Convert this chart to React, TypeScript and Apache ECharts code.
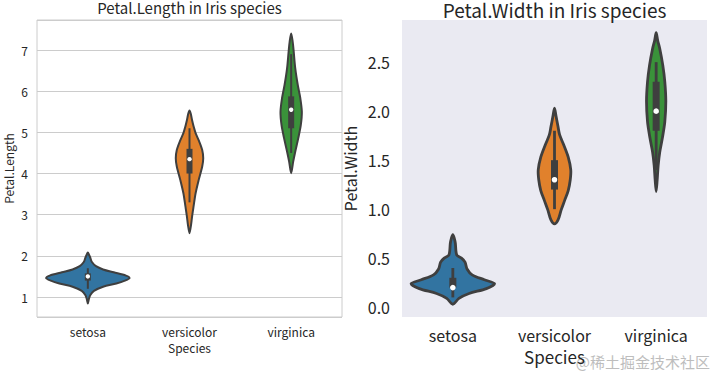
import React, { useEffect, useRef } from "react";
import * as echarts from "echarts";

const categories = ["setosa", "versicolor", "virginica"];
const palette = ["#3274a1", "#e1812c", "#3a923a"];

// violin outlines: [value, full width as fraction of the category band]
const lengthSetosa = [[0.84, 0], [0.95, 0.02], [1.05, 0.05], [1.15, 0.12], [1.25, 0.3], [1.33, 0.56], [1.4, 0.73], [1.46, 0.82], [1.52, 0.75], [1.6, 0.51], [1.67, 0.3], [1.75, 0.16], [1.85, 0.08], [1.95, 0.05], [2.02, 0.025], [2.08, 0]];
const lengthVersicolor = [[2.55, 0], [2.75, 0.03], [2.95, 0.05], [3.2, 0.08], [3.52, 0.12], [3.84, 0.18], [4.17, 0.25], [4.37, 0.27], [4.57, 0.25], [4.78, 0.19], [4.98, 0.12], [5.15, 0.08], [5.3, 0.05], [5.45, 0.025], [5.53, 0]];
const lengthVirginica = [[4.01, 0], [4.29, 0.04], [4.53, 0.08], [4.86, 0.14], [5.18, 0.19], [5.5, 0.21], [5.83, 0.18], [6.15, 0.13], [6.56, 0.08], [6.96, 0.05], [7.2, 0.03], [7.4, 0]];

const widthSetosa = [[0.03, 0], [0.09, 0.12], [0.14, 0.32], [0.19, 0.66], [0.24, 0.82], [0.28, 0.62], [0.33, 0.38], [0.39, 0.28], [0.46, 0.24], [0.5, 0.17], [0.53, 0.08], [0.58, 0.06], [0.65, 0.05], [0.7, 0.03], [0.74, 0]];
const widthVersicolor = [[0.85, 0], [0.89, 0.07], [0.99, 0.13], [1.09, 0.2], [1.19, 0.27], [1.3, 0.31], [1.4, 0.32], [1.53, 0.27], [1.67, 0.17], [1.76, 0.1], [1.84, 0.07], [1.95, 0.03], [2.03, 0]];
const widthVirginica = [[1.18, 0], [1.3, 0.02], [1.45, 0.04], [1.58, 0.07], [1.72, 0.12], [1.89, 0.17], [2.1, 0.19], [2.3, 0.17], [2.47, 0.13], [2.64, 0.07], [2.72, 0.03], [2.8, 0]];

// inner box: [lower whisker, q1, median, q3, upper whisker]
const lengthBox = [[1.2, 1.4, 1.5, 1.575, 1.7], [3.3, 4.0, 4.35, 4.6, 5.1], [4.5, 5.1, 5.55, 5.875, 6.9]];
const widthBox = [[0.1, 0.2, 0.2, 0.3, 0.4], [1.0, 1.2, 1.3, 1.5, 1.8], [1.4, 1.8, 2.0, 2.3, 2.5]];

const lengthRange = [0.515, 7.73];
const widthRange = [-0.1, 2.93];

const FONT = "'Noto Sans CJK SC', 'Noto Sans', sans-serif";
const OUTLINE = "#3f3f3f";
const TEXT = "#262626";

function makeRender(profiles: number[][][], boxes: number[][], lw: number, boxW: number, dotR: number) {
  return (params: any, api: any) => {
    const i = api.value(0);
    const prof = profiles[i];
    const band = api.size([1, 0])[0];
    const cx = api.coord([i, prof[0][0]])[0];
    const right = prof.map(([v, w]) => [cx + (w * band) / 2, api.coord([i, v])[1]]);
    const left = prof
      .slice(1, -1)
      .reverse()
      .map(([v, w]) => [cx - (w * band) / 2, api.coord([i, v])[1]]);
    const pts = right.concat(left);
    const b = boxes[i];
    const y = (v: number) => api.coord([i, v])[1];
    return {
      type: "group",
      children: [
        {
          type: "polygon",
          shape: { points: pts, smooth: 0.3 },
          style: { fill: palette[i], stroke: OUTLINE, lineWidth: lw, lineJoin: "round" },
        },
        {
          type: "line",
          shape: { x1: cx, y1: y(b[0]), x2: cx, y2: y(b[4]) },
          style: { stroke: OUTLINE, lineWidth: lw },
        },
        {
          type: "rect",
          shape: { x: cx - boxW / 2, y: y(b[3]), width: boxW, height: Math.max(1, y(b[1]) - y(b[3])), r: 0 },
          style: { fill: OUTLINE },
        },
        {
          type: "circle",
          shape: { cx: cx, cy: y(b[2]), r: dotR },
          style: { fill: "#ffffff" },
        },
      ],
    };
  };
}

export default function App() {
  const ref = useRef<HTMLDivElement>(null);
  useEffect(() => {
    if (!ref.current) return;
    const chart = echarts.init(ref.current, undefined, { renderer: "svg" });
    const lengthProfiles = [lengthSetosa, lengthVersicolor, lengthVirginica];
    const widthProfiles = [widthSetosa, widthVersicolor, widthVirginica];
    chart.setOption({
      animation: false,
      backgroundColor: "#ffffff",
      textStyle: { fontFamily: FONT },
      title: [
        {
          text: "Petal.Length in Iris species",
          left: 189.5,
          top: 0,
          textAlign: "center",
          padding: 0,
          textStyle: { fontFamily: FONT, fontSize: 15, fontWeight: "normal", color: TEXT },
        },
        {
          text: "Petal.Width in Iris species",
          left: 554.5,
          top: 0,
          textAlign: "center",
          padding: 0,
          textStyle: { fontFamily: FONT, fontSize: 19, fontWeight: "normal", color: TEXT },
        },
      ],
      grid: [
        { left: 37, top: 20, width: 305, height: 297, show: true, borderColor: "#cccccc", borderWidth: 1, backgroundColor: "#ffffff" },
        { left: 402, top: 20, width: 305, height: 297, show: true, borderWidth: 0, backgroundColor: "#eaeaf2" },
      ],
      xAxis: [
        {
          type: "category",
          gridIndex: 0,
          data: categories,
          name: "Species",
          nameLocation: "middle",
          nameGap: 24,
          nameTextStyle: { fontFamily: FONT, fontSize: 12, color: TEXT },
          axisLine: { show: false },
          axisTick: { show: false },
          axisLabel: { fontFamily: FONT, fontSize: 12, color: TEXT, margin: 8 },
          splitLine: { show: false },
        },
        {
          type: "category",
          gridIndex: 1,
          data: categories,
          name: "Species",
          nameLocation: "middle",
          nameGap: 30,
          nameTextStyle: { fontFamily: FONT, fontSize: 17, color: TEXT },
          axisLine: { show: false },
          axisTick: { show: false },
          axisLabel: { fontFamily: FONT, fontSize: 16, color: TEXT, margin: 10 },
          splitLine: { show: false },
        },
      ],
      yAxis: [
        {
          type: "value",
          gridIndex: 0,
          min: lengthRange[0],
          max: lengthRange[1],
          splitNumber: 7,
          name: "Petal.Length",
          nameLocation: "middle",
          nameGap: 23,
          nameTextStyle: { fontFamily: FONT, fontSize: 12, color: TEXT },
          axisLine: { show: false },
          axisTick: { show: false },
          axisLabel: { fontFamily: FONT, fontSize: 12, color: TEXT, margin: 9, showMinLabel: false, showMaxLabel: false },
          splitLine: { show: true, lineStyle: { color: "#cccccc", width: 1 } },
        },
        {
          type: "value",
          gridIndex: 1,
          min: widthRange[0],
          max: widthRange[1],
          splitNumber: 6,
          name: "Petal.Width",
          nameLocation: "middle",
          nameGap: 44,
          nameTextStyle: { fontFamily: FONT, fontSize: 16, color: TEXT },
          axisLine: { show: false },
          axisTick: { show: false },
          axisLabel: {
            fontFamily: FONT,
            fontSize: 16,
            color: TEXT,
            margin: 12,
            showMinLabel: false,
            showMaxLabel: false,
            formatter: (v: number) => v.toFixed(1),
          },
          splitLine: { show: false },
        },
      ],
      series: [
        {
          type: "custom",
          xAxisIndex: 0,
          yAxisIndex: 0,
          data: categories.map((_, i) => [i, lengthBox[i][2]]),
          renderItem: makeRender(lengthProfiles, lengthBox, 2, 6, 2.2),
          clip: false,
        },
        {
          type: "custom",
          xAxisIndex: 1,
          yAxisIndex: 1,
          data: categories.map((_, i) => [i, widthBox[i][2]]),
          renderItem: makeRender(widthProfiles, widthBox, 2.8, 7, 2.8),
          clip: false,
        },
      ],
      graphic: [
        {
          type: "text",
          right: 6,
          bottom: 4,
          style: { text: "@稀土掘金技术社区", fontFamily: FONT, fontSize: 15, fill: "#bdbdbd" },
        },
      ],
    });
    return () => chart.dispose();
  }, []);
  return <div ref={ref} style={{ width: 716, height: 373, position: "fixed", left: 0, top: 0 }} />;
}
